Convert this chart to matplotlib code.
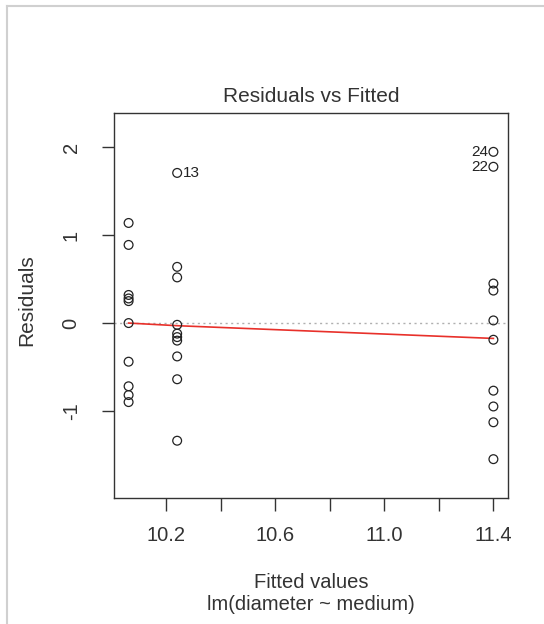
import matplotlib
matplotlib.use("Agg")
import matplotlib.pyplot as plt
from matplotlib.lines import Line2D
import numpy as np

plt.rcParams['font.family'] = ['Liberation Sans', 'DejaVu Sans']

# ---- data ----
fitted_levels = [10.063, 10.241, 11.40]
resid_low = [1.14, 0.89, 0.32, 0.28, 0.25, 0.0, -0.44, -0.72, -0.82, -0.90]
resid_mid = [1.71, 0.64, 0.52, -0.02, -0.12, -0.16, -0.20, -0.38, -0.64, -1.34]
resid_high = [1.95, 1.78, 0.45, 0.37, 0.03, -0.19, -0.77, -0.95, -1.13, -1.55]
smooth_y = [0.0, -0.03, -0.175]
labels_id = ["13", "24", "22"]
labels_group = [1, 2, 2]
labels_resid = [1.71, 1.95, 1.78]
xticks = [10.2, 10.4, 10.6, 10.8, 11.0, 11.2, 11.4]
xticklabels = ["10.2", "", "10.6", "", "11.0", "", "11.4"]
yticks = [-1, 0, 1, 2]
yticklabels = ["-1", "0", "1", "2"]

groups = [resid_low, resid_mid, resid_high]
x = np.concatenate([[fitted_levels[i]] * len(g) for i, g in enumerate(groups)])
y = np.concatenate(groups)

W, H = 544, 624
fig = plt.figure(figsize=(W / 100, H / 100), dpi=100)
fig.patch.set_facecolor("white")

# light frame at top/left of the picture
fig.add_artist(Line2D([7 / W, 7 / W], [0, 1 - 6 / H], transform=fig.transFigure,
                      color="#d0d0d0", lw=1.5))
fig.add_artist(Line2D([7 / W, 1], [1 - 6 / H, 1 - 6 / H], transform=fig.transFigure,
                      color="#d0d0d0", lw=1.5))

left, right, top, bottom = 114, 508, 113, 498
ax = fig.add_axes([left / W, 1 - bottom / H, (right - left) / W, (bottom - top) / H])

ax.axhline(0, color="#b0b0b0", lw=1.0, ls=(0, (1.5, 2.5)), zorder=1)
ax.plot(fitted_levels, smooth_y, color="#e8302a", lw=1.2, zorder=2)
ax.scatter(x, y, s=40, facecolors="none", edgecolors="#222222", linewidths=0.9, zorder=3)

for lab, gi, r in zip(labels_id, labels_group, labels_resid):
    xv = fitted_levels[gi]
    if gi < 2:
        ax.annotate(lab, (xv, r), xytext=(4, 0), textcoords="offset points",
                    ha="left", va="center", fontsize=11, color="#222222")
    else:
        ax.annotate(lab, (xv, r), xytext=(-4, 0), textcoords="offset points",
                    ha="right", va="center", fontsize=11, color="#222222")

# R-like limits
xr = max(x) - min(x)
ax.set_xlim(min(x) - 0.04 * xr, max(x) + 0.04 * xr)
ylo = min(y) - 0.08 * (max(y) - min(y))
yhi = max(y) + 0.08 * (max(y) - min(y))
yr = yhi - ylo
ax.set_ylim(ylo - 0.04 * yr, yhi + 0.04 * yr)

ax.set_xticks(xticks)
ax.set_xticklabels(xticklabels, fontsize=14.5, color="#333333")
ax.set_yticks(yticks)
ax.set_yticklabels(yticklabels, fontsize=14.5, color="#333333", rotation=90, va="center")
ax.tick_params(axis="both", length=9, width=1, color="#333333")
ax.tick_params(axis="x", pad=11)
ax.tick_params(axis="y", pad=15)
for s in ax.spines.values():
    s.set_color("#333333")
    s.set_linewidth(1.0)

ax.set_title("Residuals vs Fitted", fontsize=15, color="#333333", pad=8)
fig.text((left + right) / 2 / W, 1 - 583 / H, "Fitted values", ha="center", va="center",
         fontsize=14.5, color="#333333")
fig.text((left + right) / 2 / W, 1 - 605 / H, "lm(diameter ~ medium)", ha="center", va="center",
         fontsize=14.5, color="#333333")
fig.text(27 / W, 1 - 300 / H, "Residuals", ha="center", va="center", rotation=90,
         fontsize=15, color="#333333")

fig.savefig("out.png", dpi=100)
